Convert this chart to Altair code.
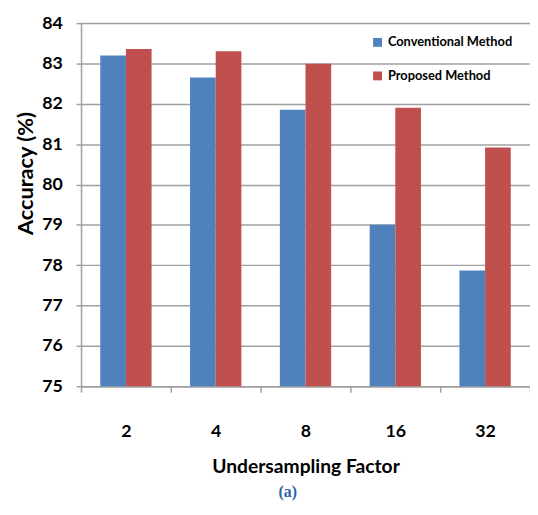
import altair as alt
import pandas as pd

factors = ["2", "4", "8", "16", "32"]
methods = ["Conventional Method", "Proposed Method"]
conventional = [83.2, 82.65, 81.85, 79.0, 77.87]
proposed = [83.36, 83.3, 82.99, 81.9, 80.92]
colors = ["#4f81bd", "#c0504d"]
y_ticks = [75, 76, 77, 78, 79, 80, 81, 82, 83, 84]

rows = []
for f, c, p in zip(factors, conventional, proposed):
    rows.append({"factor": f, "method": methods[0], "acc": c})
    rows.append({"factor": f, "method": methods[1], "acc": p})
df = pd.DataFrame(rows)

FONT = "Lato, sans-serif"
GRAY = "#a0a0a0"

chart = alt.Chart(df).mark_bar().encode(
    x=alt.X(
        "factor:N", sort=factors,
        scale=alt.Scale(paddingInner=0, paddingOuter=0),
        axis=alt.Axis(
            title="Undersampling Factor", labelAngle=0, tickBand="extent",
            tickSize=6, tickColor=GRAY, tickWidth=1.5, domainColor=GRAY, domainWidth=1.5,
            labelPadding=45, labelBaseline="alphabetic", labelFontSize=18,
            labelFont=FONT, labelFontWeight="bold", labelColor="black",
            titleFontSize=19.5, titleFont=FONT, titleFontWeight="bold", titleColor="black",
            titleY=87, titleBaseline="alphabetic", grid=False,
        ),
    ),
    xOffset=alt.XOffset("method:N", sort=methods,
                        scale=alt.Scale(paddingInner=0, paddingOuter=0.75)),
    y=alt.Y(
        "acc:Q",
        scale=alt.Scale(domain=[75, 84], nice=False, zero=False),
        axis=alt.Axis(
            values=y_ticks, title="Accuracy (%)", tickSize=5, tickColor=GRAY, tickWidth=1.5,
            domainColor=GRAY, domainWidth=1.5, gridColor=GRAY, gridWidth=1.5,
            labelPadding=14, labelFontSize=18, labelFont=FONT, labelFontWeight="bold",
            labelColor="black", titleFontSize=22, titleFont=FONT, titleFontWeight="bold",
            titleColor="black", titleAngle=270, titleX=-49, titleY=152,
            titleAlign="center", titleBaseline="alphabetic",
        ),
    ),
    y2=alt.datum(75),
    color=alt.Color(
        "method:N", sort=methods,
        scale=alt.Scale(domain=methods, range=colors),
        legend=alt.Legend(
            title=None, orient="none", legendX=294, legendY=13,
            symbolType="square", symbolSize=81, symbolStrokeWidth=0,
            labelFontSize=13, labelFont=FONT, labelFontWeight="bold",
            labelColor="black", rowPadding=20, labelOffset=4,
        ),
    ),
).properties(
    width=455, height=368,
    padding={"left": 74, "top": 12, "right": 0, "bottom": 115},
    autosize=alt.AutoSizeParams(type="none"),
    title=alt.TitleParams(
        "(a)", orient="bottom", anchor="middle", frame="group", dx=-18, offset=9,
        font="Liberation Serif, DejaVu Serif, serif", fontSize=16, fontWeight="bold",
        color="#2563a8",
    ),
).configure_view(stroke=None).configure(background="white")

chart.save("out.html", embed_options={"renderer": "svg", "actions": False})
